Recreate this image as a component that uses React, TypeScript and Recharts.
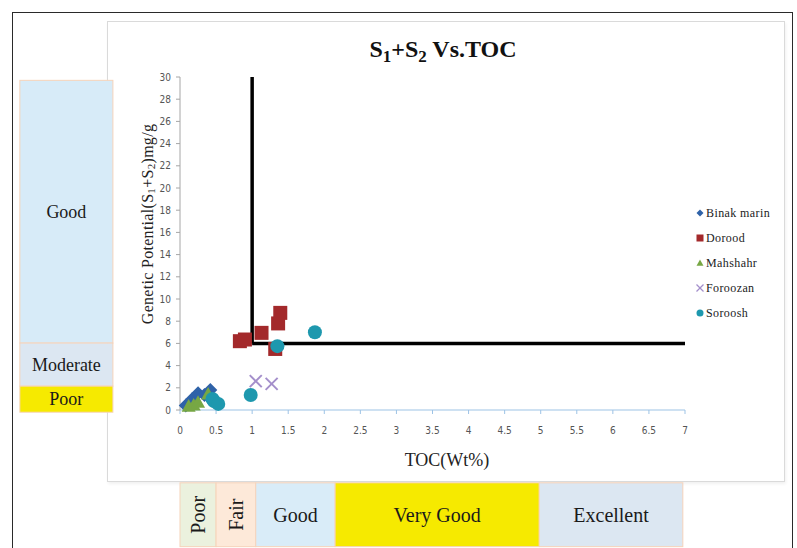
import React from 'react';
import {
  ScatterChart,
  Scatter,
  XAxis,
  YAxis,
  ReferenceLine,
  ReferenceArea,
  Legend,
  Customized,
} from 'recharts';

// ---------- data ----------
const xTicks = [0, 0.5, 1, 1.5, 2, 2.5, 3, 3.5, 4, 4.5, 5, 5.5, 6, 6.5, 7];
const yTicks = [0, 2, 4, 6, 8, 10, 12, 14, 16, 18, 20, 22, 24, 26, 28, 30];

const binakMarin = [
  { x: 0.08, y: 0.4 },
  { x: 0.17, y: 1.0 },
  { x: 0.25, y: 1.5 },
  { x: 0.34, y: 1.35 },
  { x: 0.42, y: 1.8 },
];
const dorood = [
  { x: 0.83, y: 6.2 },
  { x: 0.9, y: 6.35 },
  { x: 1.13, y: 6.95 },
  { x: 1.32, y: 5.5 },
  { x: 1.36, y: 7.8 },
  { x: 1.39, y: 8.75 },
];
const mahshahr = [
  { x: 0.12, y: 0.35 },
  { x: 0.19, y: 0.45 },
  { x: 0.25, y: 0.7 },
  { x: 0.39, y: 1.45 },
];
const foroozan = [
  { x: 1.05, y: 2.6 },
  { x: 1.27, y: 2.35 },
];
const soroosh = [
  { x: 0.45, y: 1.0 },
  { x: 0.47, y: 0.8 },
  { x: 0.53, y: 0.55 },
  { x: 0.98, y: 1.35 },
  { x: 1.35, y: 5.75 },
  { x: 1.87, y: 7.0 },
];

const potentialBands = [
  { label: 'Good', y1: 6.03, y2: 29.7, fill: '#D7EBF8' },
  { label: 'Moderate', y1: 2.15, y2: 6.03, fill: '#DCE7F2' },
  { label: 'Poor', y1: -0.2, y2: 2.15, fill: '#F6EA00' },
];
const tocBands = [
  { label: 'Poor', x1: 0, x2: 0.5, fill: '#EBF1DE', vertical: true },
  { label: 'Fair', x1: 0.5, x2: 1.05, fill: '#FDE9D9', vertical: true },
  { label: 'Good', x1: 1.05, x2: 2.15, fill: '#D9ECF8', vertical: false },
  { label: 'Very Good', x1: 2.15, x2: 4.98, fill: '#F6EA00', vertical: false },
  { label: 'Excellent', x1: 4.98, x2: 6.97, fill: '#DCE7F2', vertical: false },
];

// ---------- colours ----------
const C_BLUE = '#2F62A8';
const C_RED = '#A3292B';
const C_GREEN = '#77A744';
const C_PURPLE = '#A48FCB';
const C_TEAL = '#1E98AE';

const SERIF = '"Liberation Serif", "Times New Roman", serif';
const TICKFONT = '"Liberation Sans Narrow", "DejaVu Sans Condensed", "Liberation Sans", sans-serif';

// ---------- marker shapes ----------
const diamond = (cx: number, cy: number, r: number, fill: string) => (
  <polygon points={`${cx},${cy - r} ${cx + r},${cy} ${cx},${cy + r} ${cx - r},${cy}`} fill={fill} />
);
const square = (cx: number, cy: number, r: number, fill: string) => (
  <rect x={cx - r} y={cy - r} width={2 * r} height={2 * r} fill={fill} />
);
const triangle = (cx: number, cy: number, r: number, fill: string) => (
  <polygon points={`${cx},${cy - r} ${cx + r},${cy + r * 0.8} ${cx - r},${cy + r * 0.8}`} fill={fill} />
);
const cross = (cx: number, cy: number, r: number, stroke: string) => (
  <g stroke={stroke} strokeWidth={r > 4 ? 2 : 1.2}>
    <line x1={cx - r} y1={cy - r} x2={cx + r} y2={cy + r} />
    <line x1={cx - r} y1={cy + r} x2={cx + r} y2={cy - r} />
  </g>
);
const circle = (cx: number, cy: number, r: number, fill: string) => <circle cx={cx} cy={cy} r={r} fill={fill} />;

const seriesDefs = [
  { name: 'Binak marin', data: binakMarin, color: C_BLUE, draw: diamond, r: 7 },
  { name: 'Dorood', data: dorood, color: C_RED, draw: square, r: 7 },
  { name: 'Mahshahr', data: mahshahr, color: C_GREEN, draw: triangle, r: 7 },
  { name: 'Foroozan', data: foroozan, color: C_PURPLE, draw: cross, r: 6 },
  { name: 'Soroosh', data: soroosh, color: C_TEAL, draw: circle, r: 7 },
];

const LegendBox = () => (
  <svg width={100} height={120} style={{ display: 'block' }}>
    {seriesDefs.map((s, i) => {
      const cy = 10 + i * 25;
      return (
        <g key={s.name}>
          {s.draw(8, cy, 3.5, s.color)}
          <text x={14} y={cy + 4} fontFamily={SERIF} fontSize={12} fill="#222" letterSpacing={0.4}>
            {s.name}
          </text>
        </g>
      );
    })}
  </svg>
);

const leftBandShape = (label: string, fill: string) => (p: any) => (
  <g>
    <rect x={p.x} y={p.y} width={p.width} height={p.height} fill={fill} stroke="#F6D3BA" strokeWidth={1} />
    <text
      x={p.x + p.width / 2}
      y={p.y + p.height / 2}
      textAnchor="middle"
      dominantBaseline="central"
      fontFamily={SERIF}
      fontSize={18}
      fill="#1a1a1a"
    >
      {label}
    </text>
  </g>
);

const bottomBandShape = (label: string, fill: string, vertical: boolean) => (p: any) => {
  const cx = p.x + p.width / 2;
  const cy = p.y + p.height / 2;
  return (
    <g>
      <rect x={p.x} y={p.y} width={p.width} height={p.height} fill={fill} stroke="#F6D3BA" strokeWidth={1} />
      <text
        x={cx}
        y={cy}
        textAnchor="middle"
        dominantBaseline="central"
        fontFamily={SERIF}
        fontSize={20}
        fill="#1a1a1a"
        transform={vertical ? `rotate(-90 ${cx} ${cy})` : undefined}
      >
        {label}
      </text>
    </g>
  );
};

const Title = () => (
  <text x={443} y={57} textAnchor="middle" fontFamily={SERIF} fontSize={24} fontWeight="bold" fill="#111">
    <tspan>S</tspan>
    <tspan fontSize={17} dy={5}>1</tspan>
    <tspan dy={-5}>+S</tspan>
    <tspan fontSize={17} dy={5}>2</tspan>
    <tspan dy={-5}> Vs.TOC</tspan>
  </text>
);

const YLabel = () => (
  <text
    x={147}
    y={224}
    textAnchor="middle"
    dominantBaseline="central"
    fontFamily={SERIF}
    fontSize={16}
    letterSpacing={0.3}
    fill="#222"
    transform="rotate(-90 147 224)"
  >
    <tspan>Genetic Potential(S</tspan>
    <tspan fontSize={11} dy={4}>1</tspan>
    <tspan dy={-4}>+S</tspan>
    <tspan fontSize={11} dy={4}>2</tspan>
    <tspan dy={-4}>)mg/g</tspan>
  </text>
);

const XLabel = () => (
  <text x={447} y={466} textAnchor="middle" fontFamily={SERIF} fontSize={18} fill="#222">
    TOC(Wt%)
  </text>
);

export default function App() {
  return (
    <div style={{ position: 'relative', width: 797, height: 548, background: '#fff', overflow: 'hidden' }}>
      <style>{`body{margin:0;}`}</style>
      {/* outer frame */}
      <div
        style={{
          position: 'absolute',
          left: 12,
          top: 12,
          width: 781,
          height: 560,
          border: '1.5px solid #2a2a2a',
          boxSizing: 'border-box',
        }}
      />
      {/* chart panel */}
      <div
        style={{
          position: 'absolute',
          left: 107,
          top: 21,
          width: 678,
          height: 461,
          border: '1px solid #DADADA',
          boxSizing: 'border-box',
          boxShadow: '1px 2px 3px rgba(0,0,0,0.06)',
        }}
      />
      <div style={{ position: 'absolute', left: 0, top: 0 }}>
        <ScatterChart width={797} height={548} margin={{ top: 77, right: 112, bottom: 108, left: 120 }}>
          {potentialBands.map((b) => (
            <ReferenceArea
              key={'p' + b.label}
              x1={-2.22}
              x2={-0.93}
              y1={b.y1}
              y2={b.y2}
              ifOverflow="visible"
              shape={leftBandShape(b.label, b.fill)}
            />
          ))}
          {tocBands.map((b) => (
            <ReferenceArea
              key={'t' + b.label}
              x1={b.x1}
              x2={b.x2}
              y1={-6.56}
              y2={-12.31}
              ifOverflow="visible"
              shape={bottomBandShape(b.label, b.fill, b.vertical)}
            />
          ))}
          <XAxis
            type="number"
            dataKey="x"
            domain={[0, 7]}
            ticks={xTicks}
            interval={0}
            height={30}
            axisLine={{ stroke: '#9DC3E6', strokeWidth: 1.2 }}
            tickLine={{ stroke: '#9DC3E6' }}
            tickSize={4}
            tickMargin={13}
            tick={{ fontFamily: TICKFONT, fontSize: 10, fill: '#555' }}
          />
          <YAxis
            type="number"
            dataKey="y"
            domain={[0, 30]}
            ticks={yTicks}
            interval={0}
            width={60}
            axisLine={{ stroke: '#A6A6A6' }}
            tickLine={{ stroke: '#A6A6A6' }}
            tickSize={4}
            tickMargin={5}
            tick={{ fontFamily: TICKFONT, fontSize: 10, fill: '#555' }}
          />
          <ReferenceLine
            segment={[{ x: 1, y: 6 }, { x: 1, y: 30 }]}
            stroke="#000"
            strokeWidth={3.5}
            ifOverflow="visible"
          />
          <ReferenceLine
            segment={[{ x: 1, y: 6 }, { x: 7, y: 6 }]}
            stroke="#000"
            strokeWidth={3.5}
            ifOverflow="visible"
          />
          {seriesDefs.map((s) => (
            <Scatter
              key={s.name}
              name={s.name}
              data={s.data}
              fill={s.color}
              isAnimationActive={false}
              shape={(p: any) => s.draw(p.cx, p.cy, s.r, s.color)}
            />
          ))}
          <Legend
            layout="vertical"
            align="center"
            verticalAlign="middle"
            wrapperStyle={{ left: 692, top: 203, width: 100, height: 120 }}
            content={() => <LegendBox />}
          />
          <Customized component={Title} />
          <Customized component={YLabel} />
          <Customized component={XLabel} />
        </ScatterChart>
      </div>
    </div>
  );
}
